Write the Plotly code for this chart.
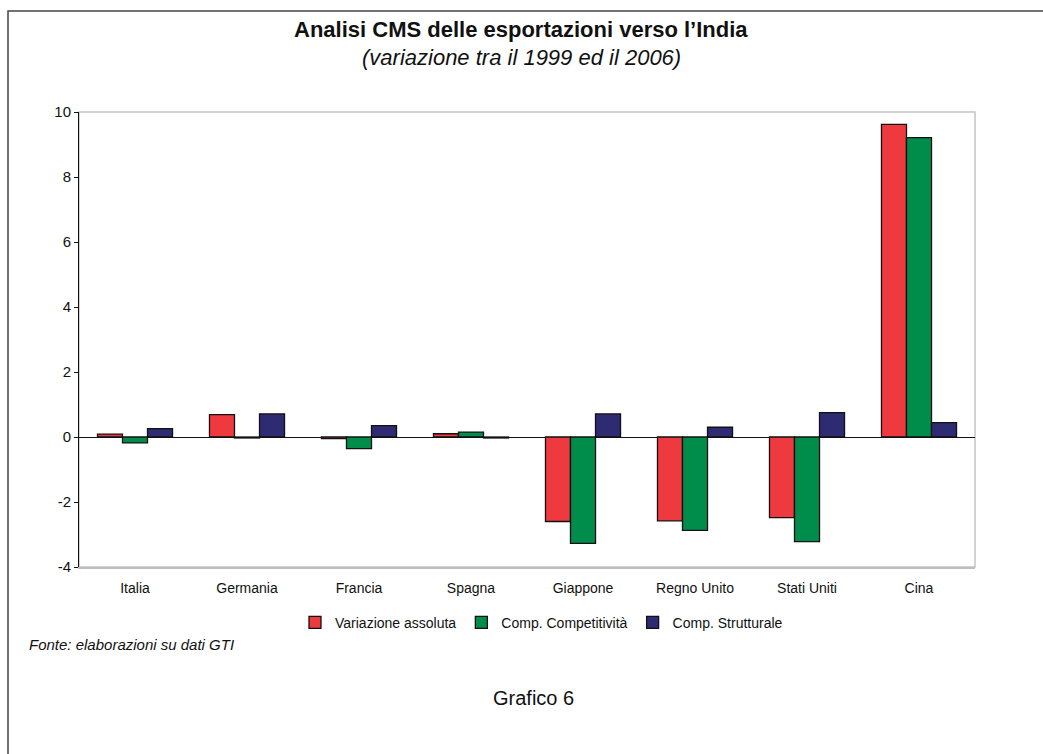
import plotly.graph_objects as go

# Countries on the category axis
paesi = ["Italia", "Germania", "Francia", "Spagna", "Giappone",
         "Regno Unito", "Stati Uniti", "Cina"]

# CMS decomposition of export share change, 1999-2006
variazione_assoluta = [0.09, 0.69, -0.05, 0.10, -2.60, -2.58, -2.48, 9.62]
comp_competitivita = [-0.18, -0.03, -0.36, 0.15, -3.27, -2.87, -3.22, 9.21]
comp_strutturale = [0.26, 0.71, 0.35, -0.03, 0.71, 0.30, 0.75, 0.44]

y_ticks = [-4, -2, 0, 2, 4, 6, 8, 10]

W, H = 1043, 754
ML, MR, MT, MB = 79, 68, 112, 187
PW = W - ML - MR
PH = H - MT - MB


def px_x(x):
    return (x - ML) / PW


def px_y(y):
    return (H - MB - y) / PH


FONT = "Liberation Sans, Arial, sans-serif"

series = [
    ("Variazione assoluta", variazione_assoluta, "#EE3A3E"),
    ("Comp. Competitività", comp_competitivita, "#008C4B"),
    ("Comp. Strutturale", comp_strutturale, "#2E2B73"),
]

fig = go.Figure()
for name, vals, col in series:
    fig.add_trace(go.Bar(
        x=paesi, y=vals, name=name,
        marker=dict(color=col, line=dict(color="#111111", width=1.3)),
    ))

fig.update_layout(
    width=W, height=H,
    margin=dict(l=ML, r=MR, t=MT, b=MB),
    paper_bgcolor="white", plot_bgcolor="white",
    barmode="group", bargap=0.33, bargroupgap=0,
    font=dict(family=FONT, size=14, color="#111111"),
    showlegend=True,
    legend=dict(
        orientation="h", x=px_x(295), y=px_y(622.7),
        xanchor="left", yanchor="middle",
        font=dict(size=14, family=FONT),
        itemwidth=30, traceorder="normal",
        bgcolor="rgba(0,0,0,0)",
    ),
    xaxis=dict(
        showgrid=False, showline=True, linecolor="#BDBDBD", linewidth=1.5,
        ticks="", tickfont=dict(size=14), ticklabelstandoff=7,
    ),
    yaxis=dict(
        range=[-4, 10], tickvals=y_ticks, ticktext=[str(v) for v in y_ticks],
        showgrid=False, showline=True, linecolor="#111111", linewidth=1,
        ticks="outside", ticklen=4, tickcolor="#111111",
        zeroline=True, zerolinecolor="#111111", zerolinewidth=1,
        tickfont=dict(size=15),
    ),
    shapes=[
        # plot area border
        dict(type="rect", xref="paper", yref="paper", x0=0, x1=1, y0=0, y1=1,
             line=dict(color="#C4C4C4", width=1.5), layer="below"),
        # outer frame
        dict(type="rect", xref="paper", yref="paper",
             x0=px_x(8), x1=px_x(1060), y0=px_y(770), y1=px_y(11),
             line=dict(color="#444444", width=1.5), layer="below"),
    ],
    annotations=[
        dict(text="<b>Analisi CMS delle esportazioni verso l’India</b>",
             xref="paper", yref="paper", x=px_x(521), y=px_y(30),
             xanchor="center", yanchor="middle", showarrow=False,
             font=dict(size=22, family=FONT, color="#111111")),
        dict(text="<i>(variazione tra il 1999 ed il 2006)</i>",
             xref="paper", yref="paper", x=px_x(521), y=px_y(58),
             xanchor="center", yanchor="middle", showarrow=False,
             font=dict(size=22, family=FONT, color="#111111")),
        dict(text="<i>Fonte: elaborazioni su dati GTI</i>",
             xref="paper", yref="paper", x=px_x(27), y=px_y(644),
             xanchor="left", yanchor="middle", showarrow=False,
             font=dict(size=15, family=FONT, color="#111111")),
        dict(text="Grafico 6",
             xref="paper", yref="paper", x=px_x(533), y=px_y(698),
             xanchor="center", yanchor="middle", showarrow=False,
             font=dict(size=20, family=FONT, color="#111111")),
    ],
)

fig.write_html("out.html")
